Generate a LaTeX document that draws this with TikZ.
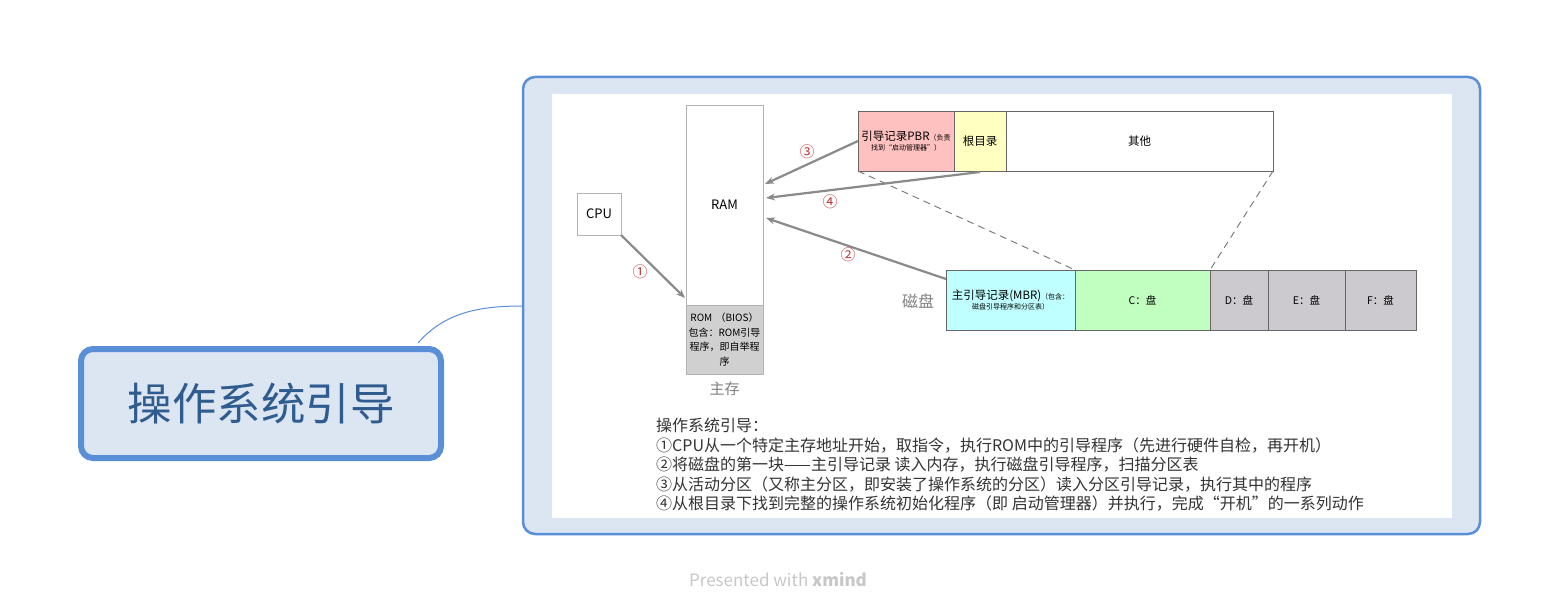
\documentclass[tikz,border=0pt]{standalone}
\usepackage{fontspec}
\setmainfont{Noto Sans CJK SC}
\usetikzlibrary{positioning, arrows.meta}
\definecolor{frameblue}{HTML}{5A8ED6}
\definecolor{panelblue}{HTML}{DCE6F2}
\definecolor{topictext}{HTML}{2F5B8E}
\definecolor{arrowgray}{HTML}{8A8A8A}
\definecolor{numred}{HTML}{C0393B}
\definecolor{pbrpink}{HTML}{FFC0C0}
\definecolor{rootyellow}{HTML}{FFFFC2}
\definecolor{mbrcyan}{HTML}{C0FFFF}
\definecolor{cgreen}{HTML}{C0FFC0}
\definecolor{diskgray}{HTML}{CCCACE}
\definecolor{romgray}{HTML}{D0D0D0}
\tikzset{
    cell/.style={draw=black!60, line width=0.8pt, inner sep=0pt, outer sep=0pt,
      minimum height=60pt, align=center, font=\fontsize{11.5}{13}\selectfont},
    membox/.style={draw=black!30, line width=0.8pt, inner sep=0pt, outer sep=0pt,
      minimum width=77pt, font=\fontsize{13}{15}\selectfont},
    stepnum/.style={text=numred, font=\fontsize{15}{15}\selectfont},
    flow/.style={draw=arrowgray, line width=2.2pt, -{Stealth[length=9pt,width=7pt]}},
    guide/.style={draw=black!55, line width=0.9pt, dash pattern=on 7pt off 5pt},
    graylabel/.style={text=black!50, font=\fontsize{15}{15}\selectfont},
}
\newcommand{\cellnote}[1]{{\fontsize{7}{9}\selectfont #1}}
\begin{document}
\begin{tikzpicture}[x=1pt, y=-1pt]
    \useasboundingbox (0,0) rectangle (1557,612);

    % frame and topic
    \draw[frameblue, line width=2.5pt, fill=panelblue, rounded corners=12pt]
      (523,77) rectangle (1480,534);
    \fill[white] (552,94) rectangle (1452,518);
    \node[draw=frameblue, line width=6pt, fill=panelblue, rounded corners=12pt,
      minimum width=360pt, minimum height=109pt, text=topictext,
      font=\fontsize{44.5}{44}\selectfont] (topic) at (261,403.5) {操作系统引导};
    \coordinate (attach) at (523,306);
    \draw[frameblue, line width=1pt] (418,343) .. controls (445,312) and (480,306) .. (attach);

    % main memory
    \node[membox, minimum height=200pt, anchor=north west] (ram) at (686,105) {RAM};
    \node[membox, fill=romgray, minimum height=69pt, below=0pt of ram,
      align=center, text width=75pt, font=\fontsize{10}{14.5}\selectfont] (rom)
      {ROM （BIOS）\\包含：ROM引导\\程序，即自举程\\序};
    \node[graylabel, below=4pt of rom] (mainmem) {主存};
    \node[membox, minimum width=44pt, minimum height=42pt, anchor=north west] (cpu)
      at (577,193) {CPU};

    % partition row
    \node[cell, fill=pbrpink, minimum width=96pt, anchor=north west] (pbr) at (858,111)
      {引导记录PBR\cellnote{（负责}\\[-3pt]\cellnote{找到“启动管理器”）}};
    \node[cell, fill=rootyellow, minimum width=52pt, right=0pt of pbr] (root) {根目录};
    \node[cell, minimum width=267pt, right=0pt of root] (other) {其他};

    % disk row
    \node[cell, fill=mbrcyan, minimum width=129pt, anchor=north west] (mbr) at (946,270)
      {主引导记录(MBR)\cellnote{（包含：}\\[-3pt]\cellnote{磁盘引导程序和分区表）}};
    \node[cell, fill=cgreen, minimum width=135pt, right=0pt of mbr, font=\fontsize{10.5}{12}\selectfont] (cdisk) {C：盘};
    \node[cell, fill=diskgray, minimum width=58pt, right=0pt of cdisk, font=\fontsize{10.5}{12}\selectfont] (ddisk) {D：盘};
    \node[cell, fill=diskgray, minimum width=77pt, right=0pt of ddisk, font=\fontsize{10.5}{12}\selectfont] (edisk) {E：盘};
    \node[cell, fill=diskgray, minimum width=71pt, right=0pt of edisk, font=\fontsize{10.5}{12}\selectfont] (fdisk) {F：盘};
    \node[graylabel, font=\fontsize{16}{16}\selectfont] (disk) at (918,301) {磁盘};

    \draw[guide] (pbr.south west) -- (cdisk.north west);
    \draw[guide] (other.south east) -- (cdisk.north east);

    % boot steps
    \coordinate (in1) at (685,298);
    \coordinate (in3) at (765,184);
    \coordinate (in4) at (766,198);
    \coordinate (in2) at (766,218);
    \coordinate (out4) at (980,172);
    \coordinate (out2) at (946,279);
    \draw[flow] (cpu.south east) -- (in1);
    \draw[flow] (pbr.west) -- (in3);
    \draw[flow] (out4) -- (in4);
    \draw[flow] (out2) -- (in2);
    \node[stepnum] (n1) at (640,272) {①};
    \node[stepnum] (n3) at (807,152) {③};
    \node[stepnum] (n4) at (830,202) {④};
    \node[stepnum] (n2) at (848,255) {②};

    % notes
    \node[anchor=north west, align=left, inner sep=0pt, text=black!80,
      font=\fontsize{16}{19.5}\selectfont] (notes) at (656,418)
      {操作系统引导：\\
       ①CPU从一个特定主存地址开始，取指令，执行ROM中的引导程序（先进行硬件自检，再开机）\\
       ②将磁盘的第一块——主引导记录 读入内存，执行磁盘引导程序，扫描分区表\\
       ③从活动分区（又称主分区，即安装了操作系统的分区）读入分区引导记录，执行其中的程序\\
       ④从根目录下找到完整的操作系统初始化程序（即 启动管理器）并执行，完成“开机”的一系列动作};

    \node[text=black!22, font=\fontsize{17}{17}\selectfont] (footer) at (778,580)
      {Presented with \textbf{xmind}};
\end{tikzpicture}
\end{document}
